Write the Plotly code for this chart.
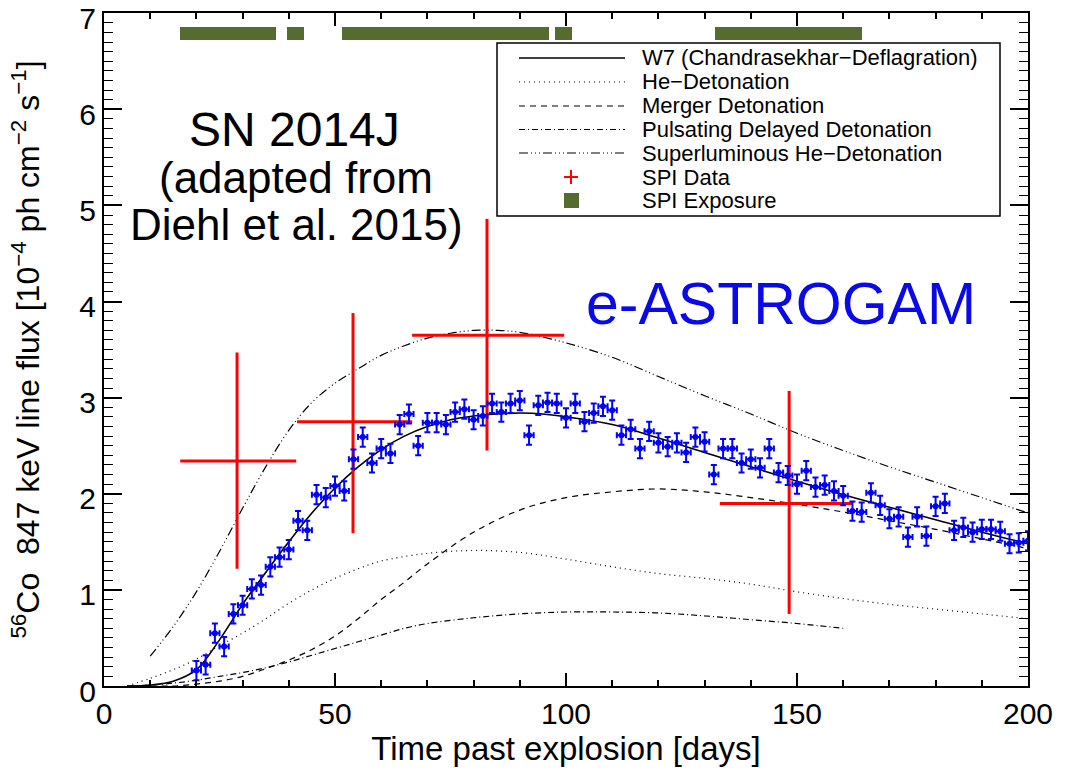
import plotly.graph_objects as go

# ---------------- data ----------------
# e-ASTROGAM simulated 847 keV line flux points (every 2 days)
sim_days = list(range(20, 201, 2))
sim_flux = [0.16, 0.22, 0.55, 0.41, 0.75, 0.84, 1.01, 1.05, 1.24, 1.34,
            1.42, 1.72, 1.62, 1.99, 1.96, 2.08, 2.03, 2.36, 2.59, 2.32,
            2.47, 2.42, 2.72, 2.83, 2.50, 2.74, 2.74, 2.72, 2.85, 2.88,
            2.77, 2.81, 2.94, 2.85, 2.94, 2.97, 2.61, 2.92, 2.95, 2.94,
            2.79, 2.94, 2.75, 2.84, 2.91, 2.87, 2.61, 2.67, 2.47, 2.65,
            2.53, 2.49, 2.53, 2.43, 2.59, 2.54, 2.20, 2.47, 2.47, 2.32,
            2.36, 2.27, 2.47, 2.22, 2.19, 2.10, 2.24, 2.07, 2.09, 2.03,
            1.98, 1.82, 1.81, 2.01, 1.88, 1.74, 1.76, 1.55, 1.76, 1.56,
            1.87, 1.90, 1.62, 1.65, 1.60, 1.63, 1.63, 1.61, 1.48, 1.49,
            1.51]
sim_err_flux = 0.1
sim_err_days = 1.0

# SPI data (INTEGRAL)
spi_t = [28.8, 53.9, 82.9, 148.3]
spi_t_lo = [16.5, 41.8, 66.7, 133.3]
spi_t_hi = [41.6, 66.7, 99.6, 162.1]
spi_f = [2.34, 2.75, 3.65, 1.90]
spi_f_lo = [1.22, 1.59, 2.45, 0.75]
spi_f_hi = [3.47, 3.88, 4.86, 3.07]

# SPI exposure periods
exp_start = [16.5, 39.6, 51.5, 97.6, 132.2]
exp_end = [37.2, 43.3, 96.3, 101.3, 164.1]
exp_level = 6.79

# Model curves
w7_t = [5, 10, 15, 20, 25, 30, 35, 40, 45, 50, 55, 60, 65, 70, 75, 80, 85, 90,
        95, 100, 110, 120, 130, 140, 150, 160, 170, 180, 190, 200]
w7_f = [0.0, 0.01, 0.05, 0.17, 0.48, 0.85, 1.18, 1.50, 1.80, 2.06, 2.28, 2.46,
        2.60, 2.70, 2.77, 2.81, 2.83, 2.84, 2.83, 2.80, 2.72, 2.58, 2.43, 2.28,
        2.13, 1.99, 1.86, 1.73, 1.60, 1.48]

hed_t = [5, 10, 15, 20, 25, 30, 35, 40, 45, 50, 55, 60, 70, 80, 90, 100, 110,
         120, 130, 140, 150, 160, 170, 180, 190, 200]
hed_f = [0.0, 0.08, 0.17, 0.28, 0.42, 0.55, 0.70, 0.86, 1.00, 1.12, 1.22, 1.30,
         1.38, 1.41, 1.39, 1.32, 1.24, 1.17, 1.12, 1.06, 0.98, 0.91, 0.85, 0.80,
         0.75, 0.70]

mrg_t = [10, 15, 20, 25, 30, 35, 40, 45, 50, 55, 60, 65, 70, 80, 90, 100, 110,
         120, 130, 140, 150, 160, 170, 180, 190, 200]
mrg_f = [0.0, 0.0, 0.02, 0.05, 0.10, 0.18, 0.27, 0.38, 0.52, 0.70, 0.90, 1.08,
         1.27, 1.60, 1.83, 1.96, 2.02, 2.05, 2.02, 1.96, 1.89, 1.81, 1.72, 1.63,
         1.53, 1.43]

pdd_t = [5, 10, 15, 20, 25, 30, 35, 40, 45, 50, 55, 60, 65, 70, 80, 90, 100,
         110, 120, 130, 140, 150, 160]
pdd_f = [0.0, 0.01, 0.03, 0.06, 0.10, 0.14, 0.19, 0.25, 0.32, 0.39, 0.46, 0.53,
         0.60, 0.65, 0.71, 0.75, 0.77, 0.77, 0.76, 0.73, 0.69, 0.65, 0.60]

slh_t = [10, 15, 20, 25, 30, 35, 40, 45, 50, 55, 60, 65, 70, 75, 80, 85, 90,
         100, 110, 120, 130, 140, 150, 160, 170, 180, 190, 200]
slh_f = [0.31, 0.62, 0.98, 1.40, 1.85, 2.28, 2.66, 2.95, 3.15, 3.30, 3.44, 3.54,
         3.62, 3.67, 3.70, 3.70, 3.68, 3.57, 3.42, 3.22, 3.02, 2.83, 2.63, 2.45,
         2.28, 2.12, 1.96, 1.80]

legend_labels = ["W7 (Chandrasekhar\u2212Deflagration)", "He\u2212Detonation",
                 "Merger Detonation", "Pulsating Delayed Detonation",
                 "Superluminous He\u2212Detonation", "SPI Data", "SPI Exposure"]

# ---------------- styles ----------------
FONT = "Liberation Sans, Arial, Helvetica, sans-serif"
GREEN = "#566B30"
DASH_HED = "1px,4px"
DASH_MRG = "6px,5px"
DASH_PDD = "6px,3px,1px,3px"
DASH_SLH = "9px,3px,1px,3px,1px,3px,1px,3px"

fig = go.Figure()

# exposure bars
fig.add_trace(go.Bar(
    y=[exp_level] * len(exp_start),
    x=[e - s for s, e in zip(exp_start, exp_end)],
    base=exp_start, orientation="h", width=0.135,
    marker=dict(color=GREEN, line=dict(width=0)),
    name="SPI Exposure", hoverinfo="skip"))

# model curves
fig.add_trace(go.Scatter(x=hed_t, y=hed_f, mode="lines", name=legend_labels[1],
                         line=dict(color="black", width=1.2, dash=DASH_HED, shape="spline")))
fig.add_trace(go.Scatter(x=mrg_t, y=mrg_f, mode="lines", name=legend_labels[2],
                         line=dict(color="black", width=1.2, dash=DASH_MRG, shape="spline")))
fig.add_trace(go.Scatter(x=pdd_t, y=pdd_f, mode="lines", name=legend_labels[3],
                         line=dict(color="black", width=1.2, dash=DASH_PDD, shape="spline")))
fig.add_trace(go.Scatter(x=slh_t, y=slh_f, mode="lines", name=legend_labels[4],
                         line=dict(color="black", width=1.2, dash=DASH_SLH, shape="spline")))
fig.add_trace(go.Scatter(x=w7_t, y=w7_f, mode="lines", name=legend_labels[0],
                         line=dict(color="black", width=1.6, shape="spline")))

# SPI data (red crosses)
fig.add_trace(go.Scatter(
    x=spi_t, y=spi_f, mode="markers", name="SPI Data",
    marker=dict(size=1, color="red"),
    error_x=dict(type="data", symmetric=False,
                 array=[h - c for h, c in zip(spi_t_hi, spi_t)],
                 arrayminus=[c - l for l, c in zip(spi_t_lo, spi_t)],
                 color="red", thickness=3, width=0),
    error_y=dict(type="data", symmetric=False,
                 array=[h - c for h, c in zip(spi_f_hi, spi_f)],
                 arrayminus=[c - l for l, c in zip(spi_f_lo, spi_f)],
                 color="red", thickness=3, width=0)))

# e-ASTROGAM simulated points
fig.add_trace(go.Scatter(
    x=sim_days, y=sim_flux, mode="markers", name="e-ASTROGAM",
    marker=dict(size=6, color="#0000FF"),
    error_x=dict(type="constant", value=sim_err_days, color="#0000FF",
                 thickness=2, width=3),
    error_y=dict(type="constant", value=sim_err_flux, color="#0000FF",
                 thickness=2, width=3)))

# ---------------- custom legend (decoration in paper coords) ----------------
PW, PH, L0, B0 = 924.0, 673.0, 104.0, 686.0
def px(xp):
    return (xp - L0) / PW
def py(yp):
    return (B0 - yp) / PH

shapes = [dict(type="rect", xref="paper", yref="paper",
               x0=px(497), x1=px(1000), y0=py(216), y1=py(43),
               line=dict(color="black", width=1.5), fillcolor="white",
               layer="above")]
rows = [58, 82, 106, 129.5, 153, 177, 200]
line_styles = [("solid", 1.6), (DASH_HED, 1.2), (DASH_MRG, 1.2),
               (DASH_PDD, 1.2), (DASH_SLH, 1.2)]
for r, (d, w) in zip(rows[:5], line_styles):
    shapes.append(dict(type="line", xref="paper", yref="paper",
                       x0=px(519), x1=px(625), y0=py(r), y1=py(r),
                       line=dict(color="black", width=w, dash=d), layer="above"))
# SPI data marker: red plus
shapes.append(dict(type="line", xref="paper", yref="paper", x0=px(564), x1=px(578),
                   y0=py(rows[5]), y1=py(rows[5]), line=dict(color="red", width=2),
                   layer="above"))
shapes.append(dict(type="line", xref="paper", yref="paper", x0=px(571), x1=px(571),
                   y0=py(rows[5] + 7), y1=py(rows[5] - 7),
                   line=dict(color="red", width=2), layer="above"))
# SPI exposure marker: green square
shapes.append(dict(type="rect", xref="paper", yref="paper", x0=px(564), x1=px(579),
                   y0=py(rows[6] + 8), y1=py(rows[6] - 7),
                   fillcolor=GREEN, line=dict(width=0), layer="above"))

annotations = []
for r, lab in zip(rows, legend_labels):
    annotations.append(dict(xref="paper", yref="paper", x=px(640), y=py(r),
                            text=lab, showarrow=False, xanchor="left",
                            yanchor="middle", font=dict(size=22, family=FONT)))

# big labels
annotations.append(dict(xref="paper", yref="paper", x=px(294), y=py(129),
                        text="SN 2014J", showarrow=False, xanchor="center",
                        yanchor="middle", font=dict(size=48, family=FONT)))
annotations.append(dict(xref="paper", yref="paper", x=px(296), y=py(177),
                        text="(adapted from", showarrow=False, xanchor="center",
                        yanchor="middle", font=dict(size=44, family=FONT)))
annotations.append(dict(xref="paper", yref="paper", x=px(296), y=py(224),
                        text="Diehl et al. 2015)", showarrow=False, xanchor="center",
                        yanchor="middle", font=dict(size=44, family=FONT)))
annotations.append(dict(xref="paper", yref="paper", x=px(781), y=py(304),
                        text="e-ASTROGAM", showarrow=False, xanchor="center",
                        yanchor="middle", font=dict(size=59, family=FONT, color="#0A0AE8")))

fig.update_layout(
    width=1073, height=771,
    margin=dict(l=104, r=45, t=13, b=85, autoexpand=False),
    plot_bgcolor="white", paper_bgcolor="white",
    showlegend=False, bargap=0,
    font=dict(family=FONT, color="black"),
    shapes=shapes, annotations=annotations)

fig.update_xaxes(
    range=[0, 200], tick0=0, dtick=50, ticks="inside", ticklen=13, tickwidth=1.5,
    tickcolor="black", mirror="ticks", showline=True, linewidth=2, linecolor="black",
    showgrid=False, zeroline=False, ticklabeloverflow="allow", automargin=False,
    minor=dict(dtick=10, ticklen=6, tickwidth=1.5, ticks="inside", tickcolor="black",
               showgrid=False),
    tickfont=dict(size=30, family=FONT),
    title=dict(text="Time past explosion [days]", font=dict(size=33, family=FONT),
               standoff=2))

fig.update_yaxes(
    range=[0, 7.002], tick0=0, dtick=1, ticks="inside", ticklen=18, tickwidth=1.5,
    tickcolor="black", mirror="ticks", showline=True, linewidth=2, linecolor="black",
    showgrid=False, zeroline=False, ticklabeloverflow="allow", automargin=False,
    ticklabelshift=5,
    minor=dict(dtick=0.1, ticklen=9, tickwidth=1.2, ticks="inside", tickcolor="black",
               showgrid=False),
    tickfont=dict(size=30, family=FONT),
    title=dict(text="<sup>56</sup>Co\u00a0\u00a0847 keV line flux [10<sup>\u22124</sup> ph cm<sup>\u22122</sup> s<sup>\u22121</sup>]",
               font=dict(size=32, family=FONT), standoff=30))

fig.write_html("out.html")
